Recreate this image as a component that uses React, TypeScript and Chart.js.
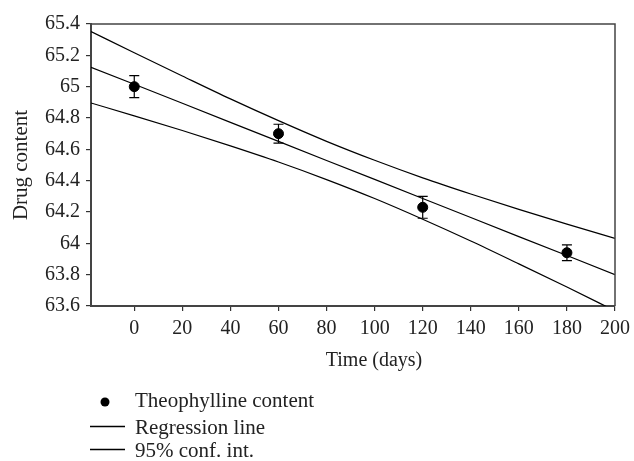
import React, { useEffect, useRef } from "react";
import { Chart, registerables } from "chart.js";

Chart.register(...registerables);

const days = [0, 60, 120, 180];
const content = [65.0, 64.7, 64.23, 63.94];
const errPlus = [0.07, 0.06, 0.07, 0.05];
const errMinus = [0.07, 0.06, 0.07, 0.05];

const lineX = [-18, 0, 20, 40, 60, 80, 100, 120, 140, 160, 180, 200];
const regression = [65.124, 65.015, 64.894, 64.772, 64.651, 64.529, 64.408, 64.286, 64.165, 64.043, 63.922, 63.8];
const upperCI = [65.352, 65.216, 65.068, 64.922, 64.783, 64.651, 64.53, 64.418, 64.315, 64.217, 64.123, 64.031];
const lowerCI = [64.896, 64.814, 64.72, 64.622, 64.519, 64.407, 64.286, 64.154, 64.015, 63.869, 63.721, 63.569];

const xTicks = [0, 20, 40, 60, 80, 100, 120, 140, 160, 180, 200];
const yTicks = [63.6, 63.8, 64, 64.2, 64.4, 64.6, 64.8, 65, 65.2, 65.4];

const xTitle = "Time (days)";
const yTitle = "Drug content";
const legendLabels = ["Theophylline content", "Regression line", "95% conf. int."];

const FONT = "'Liberation Serif', 'Times New Roman', serif";
const TEXT = "#222";

export default function App() {
  const ref = useRef<HTMLCanvasElement | null>(null);

  useEffect(() => {
    const canvas = ref.current;
    if (!canvas) return;

    const decor = {
      id: "decor",
      afterDatasetsDraw(chart: any) {
        const ctx = chart.ctx;
        const xs = chart.scales.x;
        const ys = chart.scales.y;
        const a = chart.chartArea;
        ctx.save();
        ctx.strokeStyle = "#000";
        ctx.lineWidth = 1.2;
        days.forEach((d, i) => {
          const px = xs.getPixelForValue(d);
          const yt = ys.getPixelForValue(content[i] + errPlus[i]);
          const yb = ys.getPixelForValue(content[i] - errMinus[i]);
          ctx.beginPath();
          ctx.moveTo(px, yt);
          ctx.lineTo(px, yb);
          ctx.moveTo(px - 5, yt);
          ctx.lineTo(px + 5, yt);
          ctx.moveTo(px - 5, yb);
          ctx.lineTo(px + 5, yb);
          ctx.stroke();
        });
        ctx.strokeStyle = "#444";
        ctx.lineWidth = 1.5;
        ctx.beginPath();
        ctx.moveTo(a.left, a.top);
        ctx.lineTo(a.right, a.top);
        ctx.lineTo(a.right, a.bottom);
        ctx.stroke();
        ctx.restore();
      },
      afterDraw(chart: any) {
        const ctx = chart.ctx;
        const a = chart.chartArea;
        ctx.save();
        ctx.fillStyle = TEXT;
        ctx.textAlign = "center";
        ctx.textBaseline = "alphabetic";
        ctx.font = `20px ${FONT}`;
        ctx.fillText(xTitle, 374, 366);
        ctx.save();
        ctx.font = `21px ${FONT}`;
        ctx.translate(27, (a.top + a.bottom) / 2);
        ctx.rotate(-Math.PI / 2);
        ctx.fillText(yTitle, 0, 0);
        ctx.restore();

        ctx.font = `21px ${FONT}`;
        ctx.textAlign = "left";
        ctx.fillStyle = "#000";
        ctx.beginPath();
        ctx.arc(105, 402, 4.5, 0, Math.PI * 2);
        ctx.fill();
        ctx.strokeStyle = "#000";
        ctx.lineWidth = 1.4;
        ctx.beginPath();
        ctx.moveTo(90, 426.5);
        ctx.lineTo(125, 426.5);
        ctx.moveTo(90, 449.5);
        ctx.lineTo(125, 449.5);
        ctx.stroke();
        ctx.fillStyle = TEXT;
        ctx.fillText(legendLabels[0], 135, 407);
        ctx.fillText(legendLabels[1], 135, 434);
        ctx.fillText(legendLabels[2], 135, 457);
        ctx.restore();
      },
    };

    const chart = new Chart(canvas, {
      type: "line",
      data: {
        datasets: [
          {
            label: legendLabels[0],
            data: days.map((d, i) => ({ x: d, y: content[i] })),
            showLine: false,
            pointRadius: 5,
            pointBackgroundColor: "#000",
            pointBorderColor: "#000",
            borderColor: "#000",
          },
          {
            label: legendLabels[1],
            data: lineX.map((d, i) => ({ x: d, y: regression[i] })),
            borderColor: "#000",
            borderWidth: 1.2,
            pointRadius: 0,
            tension: 0,
          },
          {
            label: legendLabels[2],
            data: lineX.map((d, i) => ({ x: d, y: upperCI[i] })),
            borderColor: "#000",
            borderWidth: 1.2,
            pointRadius: 0,
            cubicInterpolationMode: "monotone",
          },
          {
            label: legendLabels[2] + " lower",
            data: lineX.map((d, i) => ({ x: d, y: lowerCI[i] })),
            borderColor: "#000",
            borderWidth: 1.2,
            pointRadius: 0,
            cubicInterpolationMode: "monotone",
          },
        ],
      },
      options: {
        animation: false,
        responsive: false,
        maintainAspectRatio: false,
        layout: { padding: { top: 24, right: 19, left: 0, bottom: 0 } },
        plugins: { legend: { display: false }, tooltip: { enabled: false } },
        scales: {
          x: {
            type: "linear",
            min: -18,
            max: 200,
            afterBuildTicks: (s: any) => {
              s.ticks = xTicks.map((v) => ({ value: v }));
            },
            afterFit: (s: any) => {
              s.height = 155;
              s.paddingLeft = 0;
              s.paddingRight = 0;
            },
            grid: { drawOnChartArea: false, drawTicks: true, tickLength: 5, color: "#333", lineWidth: 1.2 },
            border: { display: true, color: "#444", width: 2 },
            ticks: {
              color: TEXT,
              font: { family: FONT, size: 20 },
              padding: 6,
              maxRotation: 0,
              autoSkip: false,
              callback: (v: any) => String(v),
            },
          },
          y: {
            type: "linear",
            min: 63.6,
            max: 65.4,
            afterBuildTicks: (s: any) => {
              s.ticks = yTicks.map((v) => ({ value: v }));
            },
            afterFit: (s: any) => {
              s.width = 91;
              s.paddingTop = 0;
              s.paddingBottom = 0;
            },
            grid: { drawOnChartArea: false, drawTicks: true, tickLength: 5, color: "#333", lineWidth: 1.2 },
            border: { display: true, color: "#444", width: 2 },
            ticks: {
              color: TEXT,
              font: { family: FONT, size: 20 },
              padding: 6,
              autoSkip: false,
              callback: (v: any) => String(Number(Number(v).toFixed(1))),
            },
          },
        },
      },
      plugins: [decor],
    } as any);

    return () => chart.destroy();
  }, []);

  return (
    <div style={{ position: "fixed", left: 0, top: 0, width: 634, height: 461, background: "#fff" }}>
      <canvas ref={ref} width={634} height={461} style={{ width: 634, height: 461 }} />
    </div>
  );
}
